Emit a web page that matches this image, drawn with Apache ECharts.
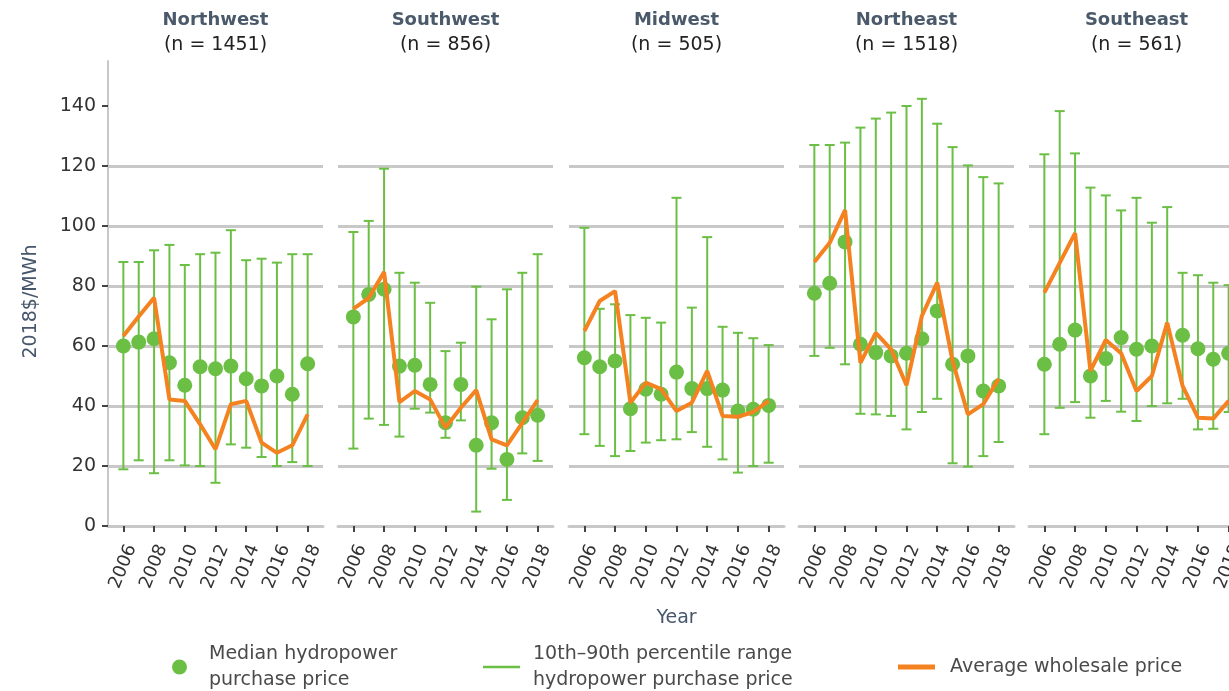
<!DOCTYPE html>
<html>
<head>
<meta charset="utf-8">
<script src="https://cdn.jsdelivr.net/npm/echarts@6/dist/echarts.min.js"></script>
<style>html,body{margin:0;padding:0;background:#fff;}#c{width:1229px;height:691px;}</style>
</head>
<body>
<div id="c"></div>
<script>
// ---------- DATA ----------
const years = [2006, 2007, 2008, 2009, 2010, 2011, 2012, 2013, 2014, 2015, 2016, 2017, 2018];
const tickYears = [2006, 2008, 2010, 2012, 2014, 2016, 2018];
const yTicks = [0, 20, 40, 60, 80, 100, 120, 140];
const regions = ['Northwest', 'Southwest', 'Midwest', 'Northeast', 'Southeast'];
const regionCounts = ['(n = 1451)', '(n = 856)', '(n = 505)', '(n = 1518)', '(n = 561)'];

const nwMedian = [60, 61.3, 62.4, 54.4, 46.9, 53.1, 52.4, 53.3, 49.1, 46.7, 50, 43.9, 54.1];
const nwP10    = [18.9, 21.9, 17.6, 21.9, 20.2, 20, 14.4, 27.2, 26.1, 23, 20, 21.3, 20];
const nwP90    = [88, 88, 91.9, 93.7, 87, 90.6, 91.1, 98.6, 88.6, 89.1, 87.8, 90.6, 90.6];
const nwAvg    = [63.3, 69.8, 76.1, 42.2, 41.7, 33.9, 25.6, 40.6, 41.7, 27.8, 24.4, 26.9, 37.2];

const swMedian = [69.7, 77.2, 78.9, 53.3, 53.6, 47.2, 34.4, 47.2, 26.9, 34.4, 22.2, 36.1, 36.9];
const swP10    = [25.8, 35.8, 33.7, 29.8, 39.1, 37.8, 29.4, 35.2, 4.8, 19.1, 8.7, 24.2, 21.7];
const swP90    = [98, 101.7, 119.1, 84.4, 81.1, 74.4, 58.3, 61.1, 79.8, 68.9, 78.9, 84.4, 90.6];
const swAvg    = [72.4, 76, 84.7, 41.3, 45, 42.2, 32.8, 39.4, 45.3, 28.9, 26.9, 34.4, 42];

const mwMedian = [56.1, 53.1, 55, 39.1, 45.6, 43.9, 51.3, 45.8, 45.8, 45.3, 38.3, 38.9, 40.2];
const mwP10    = [30.6, 26.7, 23.3, 25, 27.8, 28.6, 28.9, 31.3, 26.4, 22.2, 17.8, 20, 21.1];
const mwP90    = [99.4, 72.4, 73.9, 70.3, 69.4, 67.8, 109.4, 72.8, 96.3, 66.4, 64.4, 62.6, 60.3];
const mwAvg    = [65, 75, 78.3, 41.1, 47.8, 45.6, 38.3, 41.1, 51.7, 36.7, 36.4, 38, 41.7];

const neMedian = [77.6, 80.9, 94.7, 60.6, 57.8, 56.7, 57.6, 62.4, 71.7, 53.9, 56.7, 45, 46.7];
const neP10    = [56.7, 59.4, 53.9, 37.4, 37.2, 36.7, 32.2, 38, 42.4, 20.9, 19.8, 23.3, 28];
const neP90    = [127, 127, 127.8, 132.8, 135.8, 137.8, 140, 142.4, 134.1, 126.3, 120.2, 116.3, 114.2];
const neAvg    = [88, 94.4, 105.3, 54.4, 64.4, 58.9, 46.9, 70, 81.1, 55, 37.2, 40.6, 49.1];

const seMedian = [53.9, 60.6, 65.3, 50, 55.8, 62.8, 58.9, 60, null, 63.6, 59.1, 55.6, 57.6];
const seP10    = [30.6, 39.4, 41.3, 36.1, 41.7, 38.1, 35, 40, 40.9, 42.4, 32.2, 32.4, 38];
const seP90    = [123.9, 138.3, 124.2, 112.8, 110.2, 105.2, 109.4, 101.1, 106.3, 84.4, 83.6, 81.1, 80.3];
const seAvg    = [77.8, 87.7, 97.6, 51.7, 62, 57.6, 45, 50, 67.8, 46.7, 36.1, 35.8, 41.7];

const medians = [nwMedian, swMedian, mwMedian, neMedian, seMedian];
const p10s = [nwP10, swP10, mwP10, neP10, seP10];
const p90s = [nwP90, swP90, mwP90, neP90, seP90];
const avgs = [nwAvg, swAvg, mwAvg, neAvg, seAvg];

const MED_NAME = 'Median hydropower\npurchase price';
const RNG_NAME = '10th\u201390th percentile range\nhydropower purchase price';
const AVG_NAME = 'Average wholesale price';

// ---------- STYLE ----------
const GREEN = '#6cbf45';
const ORANGE = '#f58220';
const GRID_GRAY = '#c8c8c8';
const FONT = 'DejaVu Sans';
const panelLeft = [108, 338, 569, 799, 1029];
const panelWidth = 215;
const panelTop = 61;
const panelHeight = 465;

const grids = [], xAxes = [], yAxes = [], titles = [], series = [];
regions.forEach((r, i) => {
  grids.push({ left: panelLeft[i], top: panelTop, width: panelWidth, height: panelHeight,
               containLabel: false, outerBoundsMode: 'none' });
  titles.push({
    text: r, subtext: regionCounts[i],
    left: panelLeft[i] + panelWidth / 2, top: 11, padding: 0, itemGap: 7,
    textAlign: 'center',
    textStyle: { fontFamily: FONT, fontSize: 18, fontWeight: 'bold', color: '#4b5a6b' },
    subtextStyle: { fontFamily: FONT, fontSize: 19, color: '#222' }
  });
  xAxes.push({
    type: 'value', gridIndex: i, min: 2005, max: 2019,
    name: i === 2 ? 'Year' : '', nameLocation: 'middle', nameGap: 83,
    nameTextStyle: { fontFamily: FONT, fontSize: 19, color: '#46566b' },
    axisLine: { show: true, onZero: false, lineStyle: { color: GRID_GRAY, width: 3 } },
    axisTick: { show: true, customValues: tickYears, length: 6, lineStyle: { color: '#444', width: 2 } },
    axisLabel: { customValues: tickYears, rotate: 68, fontFamily: FONT, fontSize: 18, color: '#333', margin: 16,
                 align: 'right', verticalAlign: 'top',
                 formatter: v => String(v) },
    splitLine: { show: false }
  });
  yAxes.push({
    type: 'value', gridIndex: i, min: 0, max: 155, interval: 20,
    name: i === 0 ? '2018$/MWh' : '', nameLocation: 'middle', nameGap: 67,
    nameTextStyle: { fontFamily: FONT, fontSize: 19, color: '#46566b', padding: [0, 16, 0, 0] },
    axisLine: { show: i === 0, lineStyle: { color: GRID_GRAY, width: 2 } },
    axisTick: { show: i === 0, customValues: yTicks, length: 6, lineStyle: { color: '#444', width: 2 } },
    axisLabel: { show: i === 0, customValues: yTicks, fontFamily: FONT, fontSize: 19, color: '#333', margin: 12 },
    splitLine: { show: true, showMaxLine: false, lineStyle: { color: GRID_GRAY, width: 3 } }
  });

  series.push({
    type: 'custom', name: RNG_NAME, xAxisIndex: i, yAxisIndex: i, z: 2,
    itemStyle: { color: GREEN },
    encode: { x: 0, y: [1, 2] },
    data: years.map((y, k) => [y, p10s[i][k], p90s[i][k]]),
    renderItem: function (params, api) {
      const x = api.value(0), lo = api.value(1), hi = api.value(2);
      const a = api.coord([x, lo]), b = api.coord([x, hi]);
      const cap = 5;
      const st = { stroke: GREEN, lineWidth: 2 };
      return {
        type: 'group', children: [
          { type: 'line', shape: { x1: a[0], y1: a[1], x2: b[0], y2: b[1] }, style: st },
          { type: 'line', shape: { x1: a[0] - cap, y1: a[1], x2: a[0] + cap, y2: a[1] }, style: st },
          { type: 'line', shape: { x1: b[0] - cap, y1: b[1], x2: b[0] + cap, y2: b[1] }, style: st }
        ]
      };
    }
  });
  series.push({
    type: 'scatter', name: MED_NAME, xAxisIndex: i, yAxisIndex: i, z: 3,
    symbol: 'circle', symbolSize: 15,
    itemStyle: { color: GREEN, opacity: 1 },
    data: years.map((y, k) => [y, medians[i][k]])
  });
  series.push({
    type: 'line', name: AVG_NAME, xAxisIndex: i, yAxisIndex: i, z: 4,
    symbol: 'none', itemStyle: { color: ORANGE },
    lineStyle: { color: ORANGE, width: 4 },
    data: years.map((y, k) => [y, avgs[i][k]])
  });
});

const legendText = { fontFamily: FONT, fontSize: 19, lineHeight: 26, color: '#4a4a4a' };
const option = {
  backgroundColor: '#ffffff',
  animation: false,
  title: titles,
  grid: grids,
  xAxis: xAxes,
  yAxis: yAxes,
  legend: [
    { left: 172, top: 641, padding: 0, selectedMode: false, itemWidth: 15, itemHeight: 15,
      data: [{ name: MED_NAME, icon: 'circle' }],
      textStyle: Object.assign({}, legendText, { padding: [0, 0, 0, 17] }) },
    { left: 483, top: 641, padding: 0, selectedMode: false, itemWidth: 37, itemHeight: 2.5,
      data: [{ name: RNG_NAME, icon: 'rect' }],
      textStyle: Object.assign({}, legendText, { padding: [0, 0, 0, 8] }) },
    { left: 898, top: 654, padding: 0, selectedMode: false, itemWidth: 37, itemHeight: 5,
      data: [{ name: AVG_NAME, icon: 'rect' }],
      textStyle: Object.assign({}, legendText, { padding: [0, 0, 0, 10] }) }
  ],
  series: series
};
const chart = echarts.init(document.getElementById('c'), null, { renderer: 'canvas' });
chart.setOption(option);
</script>
</body>
</html>
